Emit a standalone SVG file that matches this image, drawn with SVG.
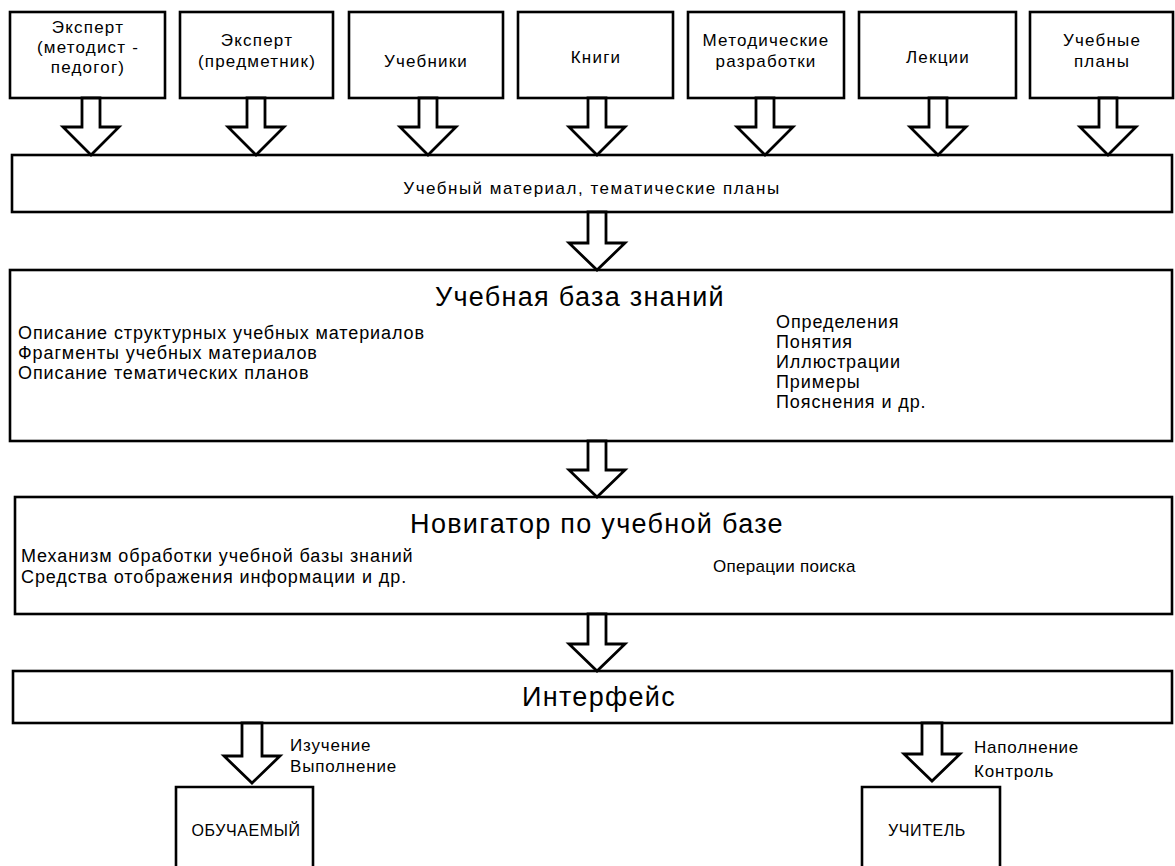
<svg xmlns="http://www.w3.org/2000/svg" width="1175" height="866" viewBox="0 0 1175 866">
<style>
.box{fill:#fff;stroke:#000;stroke-width:2.6}
.arrow{fill:#fff;stroke:#000;stroke-width:2.8;stroke-linejoin:miter}
text{font-family:"Liberation Sans",Arial,sans-serif;fill:#000}
.src{font-size:17px;letter-spacing:1.2px;text-anchor:middle}
.band{font-size:17px;letter-spacing:1.5px;text-anchor:middle}
.title{font-size:27px;letter-spacing:1.3px;text-anchor:middle}
.item{font-size:18px;letter-spacing:0.9px}
.op{font-size:17px;letter-spacing:0.3px}
.lbl{font-size:17px;letter-spacing:0.8px}
.who{font-size:16px;letter-spacing:0.6px;text-anchor:middle}
</style>
<rect width="1175" height="866" fill="#fff"/>
<g id="expert-method">
<rect class="box" x="10" y="12" width="155" height="86"/>
<text class="src" x="88" y="33">Эксперт</text>
<text class="src" x="88" y="53">(методист -</text>
<text class="src" x="88" y="73">педогог)</text>
</g>
<g id="expert-subject">
<rect class="box" x="180" y="12" width="153" height="86"/>
<text class="src" x="257" y="46">Эксперт</text>
<text class="src" x="257" y="67">(предметник)</text>
</g>
<g id="textbooks">
<rect class="box" x="349" y="12" width="154" height="86"/>
<text class="src" x="426" y="67">Учебники</text>
</g>
<g id="books">
<rect class="box" x="518" y="12" width="155" height="86"/>
<text class="src" x="596" y="63">Книги</text>
</g>
<g id="method-dev">
<rect class="box" x="688" y="12" width="156" height="86"/>
<text class="src" x="766" y="46">Методические</text>
<text class="src" x="766" y="67">разработки</text>
</g>
<g id="lectures">
<rect class="box" x="859" y="12" width="157" height="86"/>
<text class="src" x="938" y="63">Лекции</text>
</g>
<g id="curricula">
<rect class="box" x="1030" y="12" width="143" height="86"/>
<text class="src" x="1102" y="46">Учебные</text>
<text class="src" x="1102" y="67">планы</text>
</g>
<g id="material">
<rect class="box" x="12" y="155" width="1160" height="57"/>
<text class="band" x="592" y="194">Учебный материал, тематические планы</text>
</g>
<g id="knowledge-base">
<rect class="box" x="10" y="270" width="1162" height="171"/>
<text class="title" x="580" y="306">Учебная база знаний</text>
<text class="item" x="18" y="339">Описание структурных учебных материалов</text>
<text class="item" x="18" y="359">Фрагменты учебных материалов</text>
<text class="item" x="18" y="379">Описание тематических планов</text>
<text class="item" x="776" y="328">Определения</text>
<text class="item" x="776" y="348">Понятия</text>
<text class="item" x="776" y="368">Иллюстрации</text>
<text class="item" x="776" y="388">Примеры</text>
<text class="item" x="776" y="408">Пояснения и др.</text>
</g>
<g id="navigator">
<rect class="box" x="15" y="497" width="1157" height="117"/>
<text class="title" x="597" y="533">Новигатор по учебной базе</text>
<text class="item" x="21" y="562">Механизм обработки учебной базы знаний</text>
<text class="item" x="21" y="583">Средства отображения информации и др.</text>
<text class="op" x="713" y="572">Операции поиска</text>
</g>
<g id="interface">
<rect class="box" x="13" y="671" width="1159" height="52"/>
<text class="title" x="599" y="706">Интерфейс</text>
</g>
<g id="learner">
<path class="box" d="M176,868 V787 H313 V868"/>
<text class="who" x="246" y="836">ОБУЧАЕМЫЙ</text>
</g>
<g id="teacher">
<path class="box" d="M862,868 V787 H1000 V868"/>
<text class="who" x="927" y="836">УЧИТЕЛЬ</text>
</g>
<g id="connectors">
<polygon class="arrow" points="82,98 100,98 100,127 119,127 91,155 63,127 82,127"/>
<polygon class="arrow" points="247,98 265,98 265,127 284,127 256,155 228,127 247,127"/>
<polygon class="arrow" points="419,98 437,98 437,127 456,127 428,155 400,127 419,127"/>
<polygon class="arrow" points="588,98 606,98 606,127 625,127 597,155 569,127 588,127"/>
<polygon class="arrow" points="756,98 774,98 774,127 793,127 765,155 737,127 756,127"/>
<polygon class="arrow" points="929,98 947,98 947,127 966,127 938,155 910,127 929,127"/>
<polygon class="arrow" points="1099,98 1117,98 1117,127 1136,127 1108,155 1080,127 1099,127"/>
<polygon class="arrow" points="588,212 606,212 606,243 625,243 597,270 569,243 588,243"/>
<polygon class="arrow" points="588,441 606,441 606,470 625,470 597,497 569,470 588,470"/>
<polygon class="arrow" points="588,614 606,614 606,644 625,644 597,671 569,644 588,644"/>
<polygon class="arrow" points="242,723 262,723 262,756 280,756 252,783 224,756 242,756"/>
<polygon class="arrow" points="922,723 942,723 942,754 960,754 932,781 904,754 922,754"/>
<text class="lbl" x="290" y="751">Изучение</text>
<text class="lbl" x="290" y="772">Выполнение</text>
<text class="lbl" x="974" y="753">Наполнение</text>
<text class="lbl" x="974" y="777">Контроль</text>
</g>
</svg>
